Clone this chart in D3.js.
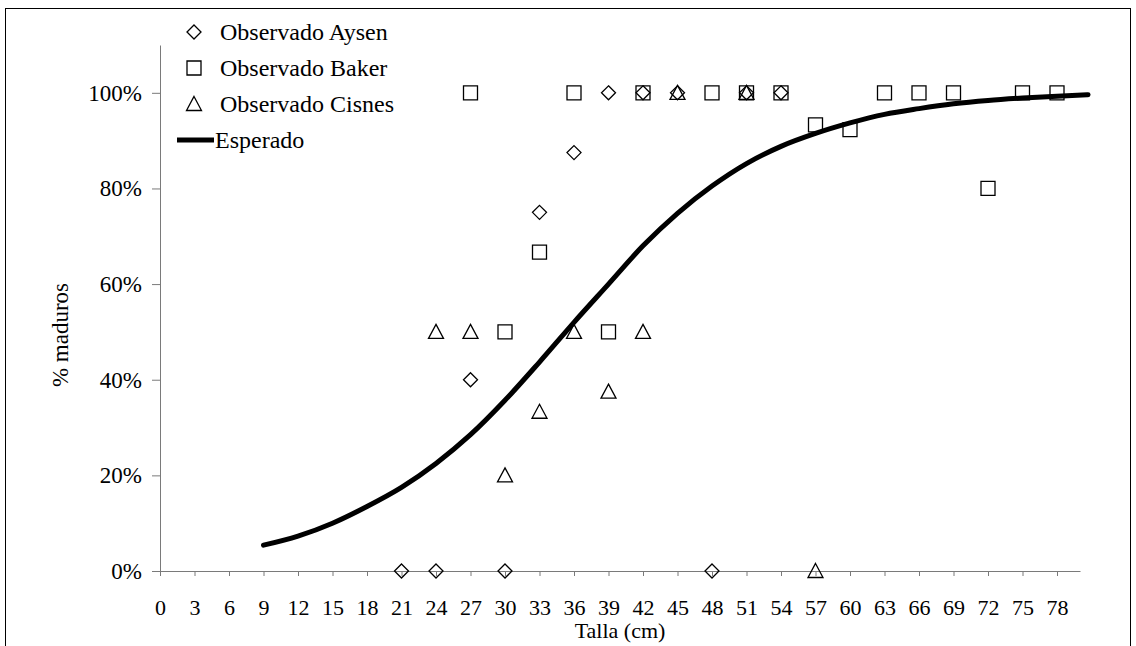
<!DOCTYPE html>
<html>
<head>
<meta charset="utf-8">
<script src="https://cdn.jsdelivr.net/npm/d3@7"></script>
<style>
  body { margin: 0; background: #fff; }
  svg text { font-family: "Liberation Serif", "Times New Roman", Times, Tinos, "DejaVu Serif", "Noto Serif", serif; fill: #000; }
</style>
</head>
<body>
<svg id="chart" width="1136" height="646"></svg>
<script>
  // observed series (talla cm, fraction mature)
  const aysenX = [21, 24, 27, 30, 33, 36, 39, 42, 45, 48, 51, 54];
  const aysenY = [0, 0, 0.4, 0, 0.75, 0.875, 1, 1, 1, 0, 1, 1];

  const bakerX = [27, 30, 33, 36, 39, 42, 48, 51, 54, 57, 60, 63, 66, 69, 72, 75, 78];
  const bakerY = [1, 0.5, 0.667, 1, 0.5, 1, 1, 1, 1, 0.933, 0.923, 1, 1, 1, 0.8, 1, 1];

  const cisnesX = [24, 27, 30, 33, 36, 39, 42, 45, 51, 57];
  const cisnesY = [0.5, 0.5, 0.2, 0.333, 0.5, 0.375, 0.5, 1, 1, 0];

  // expected curve
  const esperadoX = [9, 12, 15, 18, 21, 24, 27, 30, 33, 36, 39, 42, 45, 48, 51, 54, 57, 60, 63, 66, 69, 72, 75, 78, 80.7];
  const esperadoY = [0.054, 0.073, 0.100, 0.135, 0.175, 0.225, 0.285, 0.357, 0.437, 0.520, 0.600, 0.680, 0.748, 0.805, 0.852, 0.888, 0.915, 0.937, 0.955, 0.967, 0.977, 0.984, 0.989, 0.993, 0.996];

  const xTicks = [0, 3, 6, 9, 12, 15, 18, 21, 24, 27, 30, 33, 36, 39, 42, 45, 48, 51, 54, 57, 60, 63, 66, 69, 72, 75, 78];
  const yTicks = [0, 0.2, 0.4, 0.6, 0.8, 1];

  const legendLabels = ['Observado Aysen', 'Observado Baker', 'Observado Cisnes', 'Esperado'];
  const legendKinds = ['diamond', 'square', 'triangle', 'line'];

  const svg = d3.select('#chart');
  const AXIS_GREY = '#7a7a7a';
  const SERIF = '"Liberation Serif", "Times New Roman", Times, Tinos, "DejaVu Serif", serif';

  const x = d3.scaleLinear().domain([0, 80]).range([160, 1080]);
  const y = d3.scaleLinear().domain([0, 1.1]).range([571, 45]);

  // outer frame
  svg.append('rect')
    .attr('x', 5.5)
    .attr('y', 8.5)
    .attr('width', 1125)
    .attr('height', 660)
    .attr('fill', 'none')
    .attr('stroke', '#000')
    .attr('stroke-width', 1);

  function markerPath(kind) {
    if (kind === 'diamond') return 'M0,-7L7,0L0,7L-7,0Z';
    if (kind === 'square') return 'M-7,-7H7V7H-7Z';
    return 'M0,-7.5L7.5,6.5H-7.5Z';
  }

  function drawAxes() {
    const xAxis = svg.append('g')
      .attr('transform', `translate(0,${y(0)})`)
      .call(d3.axisBottom(x).tickValues(xTicks).tickSize(5).tickSizeOuter(0).tickPadding(23));
    xAxis.attr('font-family', SERIF);
    xAxis.select('.domain').attr('stroke', AXIS_GREY);
    xAxis.selectAll('.tick line').attr('stroke', AXIS_GREY);
    xAxis.selectAll('text')
      .attr('font-size', 22)
      .attr('fill', '#000');

    const yAxis = svg.append('g')
      .attr('transform', `translate(${x(0)},0)`)
      .call(d3.axisLeft(y).tickValues(yTicks).tickSize(8).tickSizeOuter(0).tickPadding(10)
        .tickFormat(d3.format('.0%')));
    yAxis.attr('font-family', SERIF);
    yAxis.select('.domain').attr('stroke', AXIS_GREY);
    yAxis.selectAll('.tick line').attr('stroke', AXIS_GREY);
    yAxis.selectAll('text')
      .attr('font-size', 23)
      .attr('fill', '#000');

    svg.append('text')
      .attr('x', 620)
      .attr('y', 638)
      .attr('text-anchor', 'middle')
      .attr('font-size', 22)
      .text('Talla (cm)');

    svg.append('text')
      .attr('transform', 'translate(68,335) rotate(-90)')
      .attr('text-anchor', 'middle')
      .attr('font-size', 23)
      .text('% maduros');
  }

  function drawSeries(xs, ys, kind) {
    svg.append('g')
      .selectAll('path')
      .data(xs.map((d, i) => [d, ys[i]]))
      .join('path')
      .attr('transform', d => `translate(${x(d[0])},${y(d[1])})`)
      .attr('d', markerPath(kind))
      .attr('fill', 'none')
      .attr('stroke', '#000')
      .attr('stroke-width', 1.3);
  }

  function drawCurve() {
    const line = d3.line()
      .x(d => x(d[0]))
      .y(d => y(d[1]))
      .curve(d3.curveMonotoneX);
    svg.append('path')
      .datum(esperadoX.map((d, i) => [d, esperadoY[i]]))
      .attr('d', line)
      .attr('fill', 'none')
      .attr('stroke', '#000')
      .attr('stroke-width', 5)
      .attr('stroke-linecap', 'round');
  }

  function drawLegend() {
    const rowY = [32, 68, 104, 140];
    legendLabels.forEach((label, i) => {
      const g = svg.append('g').attr('transform', `translate(0,${rowY[i]})`);
      if (legendKinds[i] === 'line') {
        g.append('line')
          .attr('x1', 177).attr('x2', 214)
          .attr('y1', 0).attr('y2', 0)
          .attr('stroke', '#000')
          .attr('stroke-width', 5);
        g.append('text')
          .attr('x', 215)
          .attr('y', 8)
          .attr('font-size', 24)
          .text(label);
      } else {
        g.append('path')
          .attr('transform', 'translate(194,0)')
          .attr('d', markerPath(legendKinds[i]))
          .attr('fill', 'none')
          .attr('stroke', '#000')
          .attr('stroke-width', 1.3);
        g.append('text')
          .attr('x', 220)
          .attr('y', 8)
          .attr('font-size', 24)
          .text(label);
      }
    });
  }

  drawAxes();
  drawSeries(bakerX, bakerY, 'square');
  drawSeries(aysenX, aysenY, 'diamond');
  drawSeries(cisnesX, cisnesY, 'triangle');
  drawCurve();
  drawLegend();
</script>
</body>
</html>
